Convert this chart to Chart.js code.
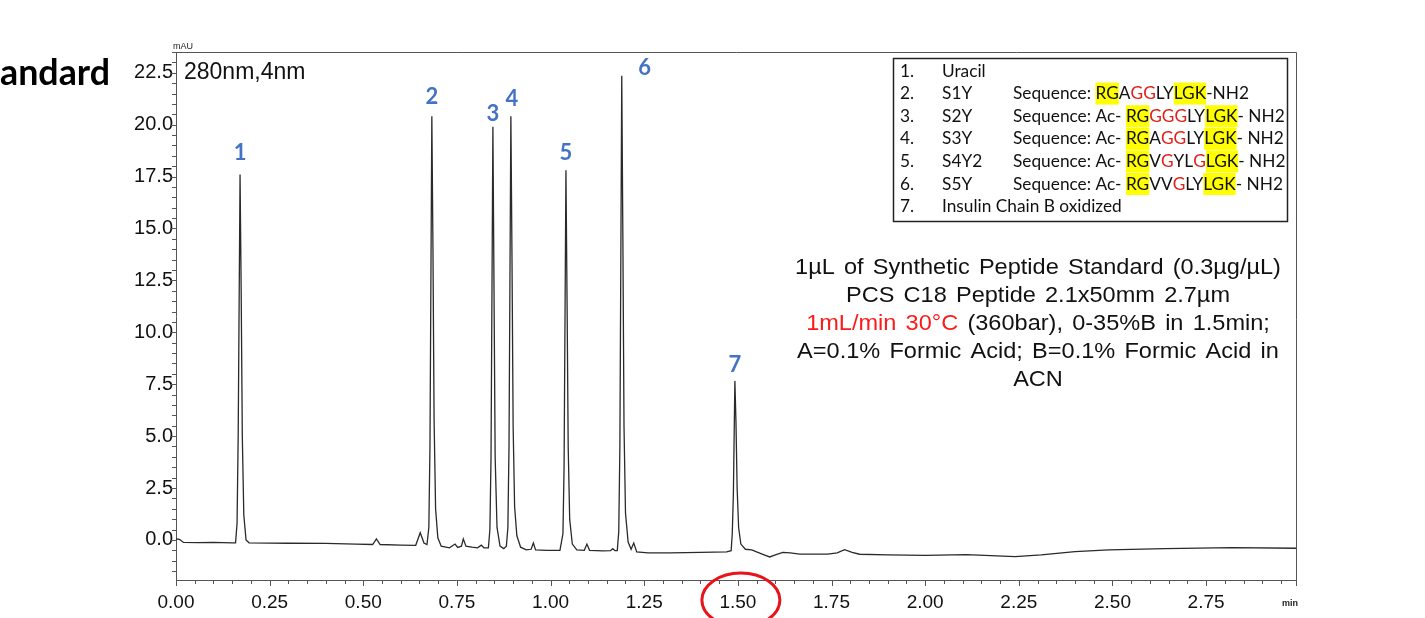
<!DOCTYPE html>
<html>
<head>
<meta charset="utf-8">
<script src="https://cdn.jsdelivr.net/npm/chart.js@4.4.1/dist/chart.umd.min.js"></script>
<style>
  html, body { margin: 0; padding: 0; background: #fff; }
  canvas { display: block; }
</style>
</head>
<body>
<canvas id="chrom" width="1425" height="618"></canvas>
<script>
// retention time (min) and absorbance (mAU)
var retTime = [
  0.000, 0.004, 0.010, 0.020, 0.060, 0.100, 0.150,
  0.159, 0.163, 0.166, 0.171, 0.174, 0.177, 0.181, 0.187, 0.195,
  0.250, 0.300, 0.400, 0.480, 0.525, 0.535, 0.545, 0.600, 0.640, 0.652, 0.662,
  0.670, 0.675, 0.678, 0.683, 0.686, 0.689, 0.693, 0.699, 0.708,
  0.730, 0.745, 0.752, 0.762, 0.767, 0.774, 0.790, 0.805, 0.815, 0.822, 0.834,
  0.838, 0.841, 0.846, 0.849, 0.852, 0.857, 0.865, 0.875, 0.882,
  0.886, 0.889, 0.894, 0.897, 0.900, 0.904, 0.910, 0.920,
  0.935, 0.948, 0.954, 0.960, 0.990, 1.025,
  1.033, 1.036, 1.041, 1.044, 1.047, 1.051, 1.058, 1.070,
  1.090, 1.097, 1.104, 1.140, 1.160, 1.166, 1.172, 1.178,
  1.182, 1.185, 1.190, 1.193, 1.196, 1.200, 1.207, 1.215, 1.222, 1.230,
  1.260, 1.320, 1.400, 1.470, 1.482,
  1.485, 1.488, 1.492, 1.495, 1.498, 1.502, 1.508, 1.520,
  1.537, 1.550, 1.570, 1.585, 1.600, 1.620, 1.640, 1.665, 1.740, 1.765, 1.785,
  1.805, 1.825, 1.900, 2.000, 2.110, 2.240, 2.310, 2.400, 2.490, 2.640, 2.820, 2.990
];
var absorb = [
  0.02, 0.05, 0.02, -0.12, -0.13, -0.12, -0.14,
  -0.14, 0.8, 5.0, 17.6, 12.0, 5.0, 1.2, 0.0, -0.14,
  -0.15, -0.16, -0.17, -0.20, -0.22, 0.05, -0.22, -0.25, -0.26, 0.35, -0.15,
  -0.22, 0.6, 4.5, 20.4, 14.0, 5.8, 1.5, 0.1, -0.30,
  -0.38, -0.20, -0.36, -0.30, 0.05, -0.30, -0.35, -0.38, -0.25, -0.38, -0.38,
  0.5, 4.0, 19.9, 12.0, 4.0, 0.6, -0.30, -0.42, -0.30,
  0.6, 4.5, 20.4, 13.5, 5.5, 1.6, 0.2, -0.35,
  -0.48, -0.45, -0.15, -0.48, -0.50, -0.50,
  0.3, 3.5, 17.8, 11.5, 4.5, 1.0, -0.2, -0.48,
  -0.50, -0.20, -0.50, -0.53, -0.52, -0.42, -0.52, -0.52,
  0.4, 4.5, 22.35, 14.5, 5.5, 1.3, -0.1, -0.45, -0.15, -0.58,
  -0.62, -0.62, -0.60, -0.58, -0.52,
  0.3, 2.2, 7.66, 5.6, 2.5, 0.6, -0.2, -0.45,
  -0.48, -0.58, -0.72, -0.82, -0.72, -0.60, -0.62, -0.68, -0.68, -0.62, -0.47,
  -0.60, -0.69, -0.72, -0.74, -0.71, -0.80, -0.72, -0.56, -0.48, -0.42, -0.37, -0.40
];

// numbered peaks
var peakNames = ['1', '2', '3', '4', '5', '6', '7'];
var peakTimes = [0.171, 0.683, 0.846, 0.894, 1.041, 1.190, 1.492];
var peakHeights = [17.6, 20.4, 19.9, 20.4, 17.8, 22.35, 7.66];

// axes
var xTicks = [0, 0.25, 0.5, 0.75, 1.0, 1.25, 1.5, 1.75, 2.0, 2.25, 2.5, 2.75];
var xLabels = ['0.00', '0.25', '0.50', '0.75', '1.00', '1.25', '1.50', '1.75', '2.00', '2.25', '2.50', '2.75'];
var yTicks = [0, 2.5, 5, 7.5, 10, 12.5, 15, 17.5, 20, 22.5];
var yLabels = ['0.0', '2.5', '5.0', '7.5', '10.0', '12.5', '15.0', '17.5', '20.0', '22.5'];

// peak table
var tableNums = ['1.', '2.', '3.', '4.', '5.', '6.', '7.'];
var tableNames = ['Uracil', 'S1Y', 'S2Y', 'S3Y', 'S4Y2', 'S5Y', 'Insulin Chain B oxidized'];
// y = yellow highlight, r = red letters
var tableSeqs = [
  null,
  [['RG', 'y'], ['A', ''], ['GG', 'r'], ['LY', ''], ['LGK', 'y'], ['-NH2', '']],
  [['Ac- ', ''], ['RG', 'y'], ['GGG', 'r'], ['LY', ''], ['LGK', 'y'], ['- NH2', '']],
  [['Ac- ', ''], ['RG', 'y'], ['A', ''], ['GG', 'r'], ['LY', ''], ['LGK', 'y'], ['- NH2', '']],
  [['Ac- ', ''], ['RG', 'y'], ['V', ''], ['G', 'r'], ['YL', ''], ['G', 'r'], ['LGK', 'y'], ['- NH2', '']],
  [['Ac- ', ''], ['RG', 'y'], ['VV', ''], ['G', 'r'], ['LY', ''], ['LGK', 'y'], ['- NH2', '']],
  null
];

var conditions = [
  [['1µL of Synthetic Peptide Standard (0.3µg/µL)', '#111']],
  [['PCS C18 Peptide 2.1x50mm 2.7µm', '#111']],
  [['1mL/min 30°C', '#ff1a1a'], [' (360bar), 0-35%B in 1.5min;', '#111']],
  [['A=0.1% Formic Acid; B=0.1% Formic Acid in', '#111']],
  [['ACN', '#111']]
];

var AX = '#555';
var SANS = '"Liberation Sans", Arial, sans-serif';
var CAL = 'Lato, "Open Sans", sans-serif';

function fitSize(ctx, text, font, width) {
  ctx.font = font.replace('SZ', '100px');
  return 100 * width / ctx.measureText(text).width;
}

var decor = {
  id: 'decor',
  afterDraw: function(chart) {
    var ctx = chart.ctx, a = chart.chartArea;
    var xs = chart.scales.x, ys = chart.scales.y;
    ctx.save();

    // frame top/right
    ctx.strokeStyle = AX;
    ctx.lineWidth = 1;
    ctx.beginPath();
    ctx.moveTo(a.left, a.top + 0.5);
    ctx.lineTo(a.right + 0.5, a.top + 0.5);
    ctx.lineTo(a.right + 0.5, a.bottom + 6);
    ctx.stroke();

    // tick marks
    ctx.beginPath();
    for (var i = 0; i <= 59; i++) {
      var px = Math.round(xs.getPixelForValue(i * 0.05)) + 0.5;
      var len = (i % 5 === 0) ? 6 : 4;
      ctx.moveTo(px, a.bottom);
      ctx.lineTo(px, a.bottom + len);
    }
    for (var j = -3; j <= 47; j++) {
      var py = Math.round(ys.getPixelForValue(j * 0.5)) + 0.5;
      var l2 = (j % 5 === 0) ? 6 : 4;
      ctx.moveTo(a.left, py);
      ctx.lineTo(a.left - l2, py);
    }
    ctx.stroke();

    // axis unit labels
    ctx.fillStyle = '#222';
    ctx.font = '9px ' + SANS;
    ctx.textAlign = 'center';
    ctx.textBaseline = 'middle';
    ctx.fillText('mAU', a.left + 7, 47);
    ctx.font = 'bold 9px ' + SANS;
    ctx.fillText('min', a.right - 6, 604);

    // slide title fragment
    ctx.fillStyle = '#000';
    ctx.textAlign = 'left';
    ctx.font = 'bold ' + fitSize(ctx, 'andard', 'bold SZ ' + CAL, 110).toFixed(1) + 'px ' + CAL;
    ctx.fillText('andard', 0, 73);

    // detector label
    ctx.fillStyle = '#111';
    ctx.font = '23px ' + SANS;
    ctx.fillText('280nm,4nm', a.left + 8, 73);

    // peak numbers
    var off = [[0, -22], [0, -19], [0, -13], [1, -17], [0, -17], [23, -8], [0, -16]];
    ctx.fillStyle = '#4472c4';
    ctx.font = 'bold 22px ' + CAL;
    ctx.textAlign = 'center';
    for (var k = 0; k < peakNames.length; k++) {
      var tx = xs.getPixelForValue(peakTimes[k]) + off[k][0];
      var ty = ys.getPixelForValue(peakHeights[k]) + off[k][1];
      ctx.fillText(peakNames[k], tx, ty);
    }

    // peak table box
    ctx.strokeStyle = '#222';
    ctx.lineWidth = 1.5;
    ctx.strokeRect(893.5, 58.5, 394, 163);
    var tsz = fitSize(ctx, 'Insulin Chain B oxidized', 'SZ ' + CAL, 180);
    ctx.font = tsz.toFixed(1) + 'px ' + CAL;
    ctx.textAlign = 'left';
    for (var r = 0; r < tableNums.length; r++) {
      var ry = 71 + r * 22.6;
      ctx.fillStyle = '#111';
      ctx.fillText(tableNums[r], 900, ry);
      ctx.fillText(tableNames[r], 942, ry);
      var seq = tableSeqs[r];
      if (!seq) continue;
      var cx = 1013;
      ctx.fillText('Sequence: ', cx, ry);
      cx += ctx.measureText('Sequence: ').width;
      for (var s = 0; s < seq.length; s++) {
        var w = ctx.measureText(seq[s][0]).width;
        if (seq[s][1] === 'y') {
          ctx.fillStyle = '#ffff00';
          ctx.fillRect(cx, ry - 11, w, 22);
        }
        ctx.fillStyle = seq[s][1] === 'r' ? '#e0201b' : '#111';
        ctx.fillText(seq[s][0], cx, ry);
        cx += w;
      }
    }

    // run conditions (text in the source is a little wide, so stretch it)
    var stretch = 1.07, midX = 1038;
    ctx.font = '22px ' + SANS;
    ctx.wordSpacing = '2.5px';
    for (var q = 0; q < conditions.length; q++) {
      var parts = conditions[q], tot = 0;
      parts.forEach(function(pt) { tot += ctx.measureText(pt[0]).width; });
      var sx = midX / stretch - tot / 2, sy = 268 + q * 28;
      ctx.save();
      ctx.scale(stretch, 1);
      parts.forEach(function(pt) {
        ctx.fillStyle = pt[1];
        ctx.fillText(pt[0], sx, sy);
        sx += ctx.measureText(pt[0]).width;
      });
      ctx.restore();
    }
    ctx.wordSpacing = '0px';

    // red ring around 1.50
    ctx.strokeStyle = '#e8141b';
    ctx.lineWidth = 3;
    ctx.beginPath();
    ctx.ellipse(xs.getPixelForValue(1.5) + 3, 600, 39, 27, 0, 0, Math.PI * 2);
    ctx.stroke();

    ctx.restore();
  }
};

var points = retTime.map(function(t, i) { return { x: t, y: absorb[i] }; });

new Chart(document.getElementById('chrom').getContext('2d'), {
  type: 'scatter',
  data: {
    datasets: [{
      data: points,
      showLine: true,
      borderColor: '#2a2a2a',
      borderWidth: 1.3,
      pointRadius: 0,
      tension: 0
    }]
  },
  options: {
    responsive: false,
    animation: false,
    layout: { padding: { top: 52, right: 129, left: 0, bottom: 0 } },
    plugins: { legend: { display: false }, tooltip: { enabled: false } },
    scales: {
      x: {
        type: 'linear',
        min: 0,
        max: 2.99,
        afterBuildTicks: function(s) { s.ticks = xTicks.map(function(v) { return { value: v }; }); },
        afterFit: function(s) { s.height = 38; },
        grid: { display: true, drawOnChartArea: false, drawTicks: false },
        border: { color: AX },
        ticks: {
          autoSkip: false,
          maxRotation: 0,
          padding: 11,
          color: '#111',
          font: { family: SANS, size: 19 },
          callback: function(v, i) { return xLabels[i]; }
        }
      },
      y: {
        min: -1.93,
        max: 23.5,
        afterBuildTicks: function(s) { s.ticks = yTicks.map(function(v) { return { value: v }; }); },
        afterFit: function(s) { s.width = 176; },
        grid: { display: true, drawOnChartArea: false, drawTicks: false },
        border: { color: AX },
        ticks: {
          padding: 3,
          color: '#111',
          font: { family: SANS, size: 20 },
          callback: function(v, i) { return yLabels[i]; }
        }
      }
    }
  },
  plugins: [decor]
});
</script>
</body>
</html>
